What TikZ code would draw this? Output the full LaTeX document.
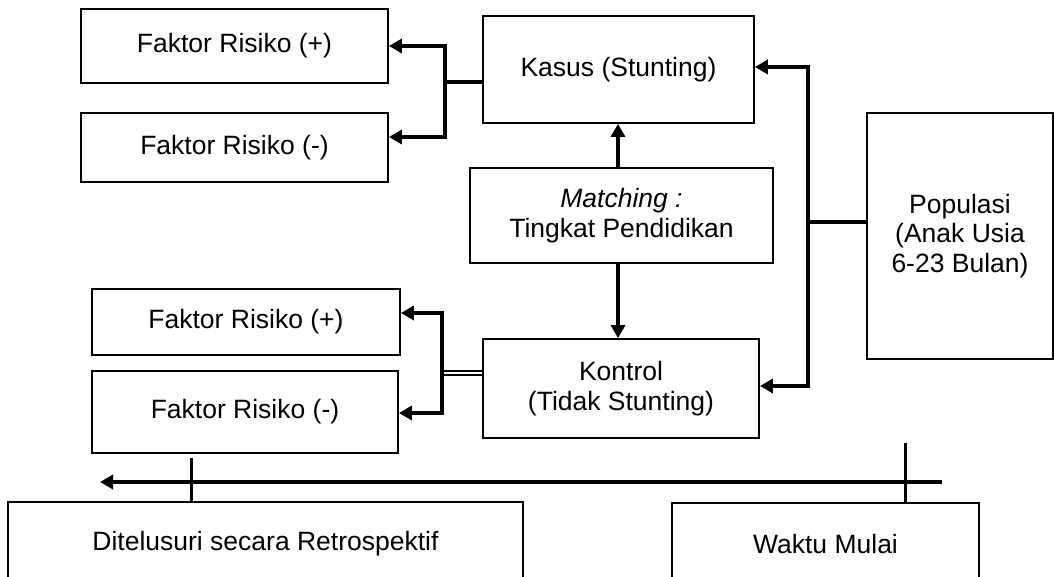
\documentclass[tikz,border=0pt]{standalone}
\usepackage{fontspec}
\setmainfont{Liberation Sans}
\usetikzlibrary{arrows.meta}
\tikzset{
  box/.style={draw, line width=1.8pt, rectangle, inner sep=0pt, align=center,
    font=\fontsize{26.5}{29.5}\selectfont},
  conn/.style={line width=3.5pt},
  arr/.style={line width=3.5pt, -{Triangle[length=13pt,width=14pt]}},
  dbl/.style={double, double distance=2pt, line width=1.6pt},
  tick/.style={line width=3pt}
}
\begin{document}
\begin{tikzpicture}[x=1pt,y=-1pt]
\useasboundingbox (0,0) rectangle (1054,577);
\fill[white] (0,0) rectangle (1054,577);
\clip (0,0) rectangle (1054,577);
% boxes
\node[box, minimum width=307pt, minimum height=74pt] (fa) at (234.5,46) {Faktor Risiko (+)};
\node[box, minimum width=307pt, minimum height=69pt] (fb) at (234.5,147.5) {Faktor Risiko (-)};
\node[box, minimum width=271pt, minimum height=107pt] (kasus) at (618.5,69.5) {Kasus (Stunting)};
\node[box, minimum width=303pt, minimum height=95pt] (match) at (621.5,215.5) {\textit{Matching :}\\Tingkat Pendidikan};
\node[box, minimum width=276pt, minimum height=99pt] (kontrol) at (621,388.5) {Kontrol\\(Tidak Stunting)};
\node[box, minimum width=308pt, minimum height=66pt] (fc) at (246,322) {Faktor Risiko (+)};
\node[box, minimum width=306pt, minimum height=82pt] (fd) at (245,412) {Faktor Risiko (-)};
\node[box, minimum width=186pt, minimum height=246pt] (pop) at (960,236) {Populasi\\(Anak Usia\\6-23 Bulan)};
\node[box, minimum width=515pt, minimum height=84pt] (dit) at (265.5,544) {Ditelusuri secara Retrospektif};
\node[box, minimum width=307pt, minimum height=82pt] (waktu) at (825.5,544) {Waktu Mulai};
% junction coordinates
\coordinate (j1) at (445,82);
\coordinate (ja) at (445,46);
\coordinate (jb) at (445,137);
\coordinate (mx) at (618,0);
\coordinate (p1) at (808,222);
\coordinate (pk) at (808,67);
\coordinate (pko) at (808,386);
\coordinate (k1) at (442,373);
\coordinate (kc) at (442,313);
\coordinate (kd) at (442,413);
\coordinate (tR) at (942,482);
\coordinate (tL) at (100,482);
\coordinate (tk1) at (191,458);
\coordinate (tk2) at (905,443);
% kasus to risk factors
\draw[conn] (kasus.west |- j1) -- (j1);
\draw[arr] (j1) -- (ja) -- (fa.east |- ja);
\draw[arr] (j1) -- (jb) -- (fb.east |- jb);
% matching
\draw[arr] (match.north -| mx) -- (kasus.south -| mx);
\draw[arr] (match.south -| mx) -- (kontrol.north -| mx);
% populasi
\draw[conn] (pop.west |- p1) -- (p1);
\draw[arr] (p1) -- (pk) -- (kasus.east |- pk);
\draw[arr] (p1) -- (pko) -- (kontrol.east |- pko);
% kontrol to risk factors
\draw[dbl] (kontrol.west |- k1) -- (k1);
\draw[arr] (k1) -- (kc) -- (fc.east |- kc);
\draw[arr] (k1) -- (kd) -- (fd.east |- kd);
% timeline
\draw[arr] (tR) -- (tL);
\draw[tick] (tk1) -- (dit.north -| tk1);
\draw[tick] (tk2) -- (waktu.north -| tk2);
\end{tikzpicture}
\end{document}
